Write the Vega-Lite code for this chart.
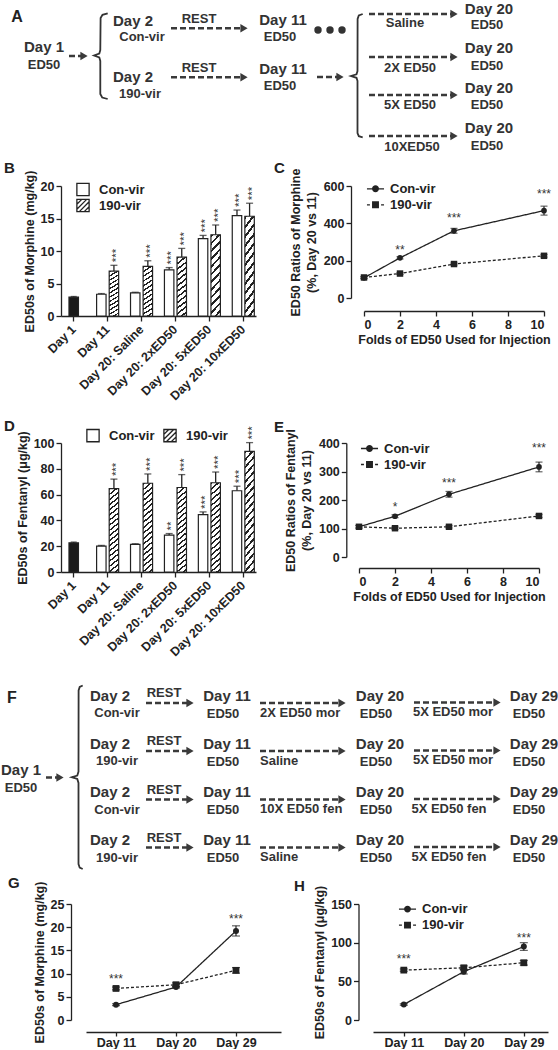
{
"$schema": "https://vega.github.io/schema/vega-lite/v6.json",
"background": "white",
"padding": 0,
"spacing": 0,
"bounds": "flush",
"resolve": {"scale": {"shape": "independent", "strokeDash": "independent"}, "legend": {"shape": "independent"}},
"config": {
  "view": {"stroke": null},
  "font": "Liberation Sans",
  "axis": {"labelFont": "Liberation Sans", "labelFontSize": 12.5, "labelFontWeight": "bold", "labelColor": "#222", "titleFont": "Liberation Sans", "titleFontSize": 12.5, "titleFontWeight": "bold", "titleColor": "#222", "domainColor": "#222", "domainWidth": 1.3, "tickColor": "#222", "tickWidth": 1.3, "tickSize": 5, "grid": false, "labelPadding": 2},
  "legend": {"labelFont": "Liberation Sans", "labelFontSize": 13, "labelFontWeight": "bold", "labelColor": "#222", "padding": 0},
  "title": {"font": "Liberation Sans", "fontSize": 15, "fontWeight": "bold", "color": "#222", "anchor": "start", "frame": "group"}
},
"datasets": {
  "braceA": [
    {"b":"1","k":0,"x":106.7,"y":13.3},{"b":"1","k":1,"x":101.5,"y":14.8},{"b":"1","k":2,"x":99.6,"y":18},{"b":"1","k":3,"x":99.3,"y":50},{"b":"1","k":4,"x":98.3,"y":53.5},{"b":"1","k":5,"x":93,"y":55.5},{"b":"1","k":6,"x":98.3,"y":57.5},{"b":"1","k":7,"x":99.3,"y":61},{"b":"1","k":8,"x":99.3,"y":94},{"b":"1","k":9,"x":101.2,"y":97.5},{"b":"1","k":10,"x":106.7,"y":99},
    {"b":"2","k":0,"x":361.7,"y":14},{"b":"2","k":1,"x":357.8,"y":15.5},{"b":"2","k":2,"x":356.6,"y":19},{"b":"2","k":3,"x":356.5,"y":71},{"b":"2","k":4,"x":355.5,"y":74.3},{"b":"2","k":5,"x":350,"y":76},{"b":"2","k":6,"x":355.5,"y":77.8},{"b":"2","k":7,"x":356.5,"y":81},{"b":"2","k":8,"x":356.5,"y":133},{"b":"2","k":9,"x":357.8,"y":136.2},{"b":"2","k":10,"x":361.7,"y":137.3}
  ],
  "arrowA": [
    {"x":68,"x2":83,"y":56},{"x":170,"x2":243,"y":28.3},{"x":170,"x2":243,"y":77.3},{"x":316,"x2":339,"y":77},
    {"x":368,"x2":453,"y":14},{"x":368,"x2":453,"y":57},{"x":368,"x2":453,"y":95},{"x":368,"x2":453,"y":136}
  ],
  "dotsA": [{"x":317,"y":30},{"x":329,"y":30},{"x":341,"y":30}],
  "bigA": [
    {"x":43,"y":47,"t":"Day 1"},{"x":132,"y":21,"t":"Day 2"},{"x":132,"y":77,"t":"Day 2"},{"x":282,"y":20,"t":"Day 11"},{"x":282,"y":69,"t":"Day 11"},
    {"x":488,"y":9,"t":"Day 20"},{"x":488,"y":48,"t":"Day 20"},{"x":488,"y":88,"t":"Day 20"},{"x":488,"y":128,"t":"Day 20"}
  ],
  "smallA": [
    {"x":43,"y":65,"t":"ED50"},{"x":141,"y":37,"t":"Con-vir"},{"x":139,"y":94,"t":"190-vir"},{"x":198,"y":19,"t":"REST"},{"x":198,"y":67.5,"t":"REST"},
    {"x":279,"y":37,"t":"ED50"},{"x":279,"y":86,"t":"ED50"},{"x":404,"y":23,"t":"Saline"},{"x":409,"y":68,"t":"2X ED50"},{"x":409,"y":105,"t":"5X ED50"},{"x":411,"y":147,"t":"10XED50"},
    {"x":486,"y":24.5,"t":"ED50"},{"x":486,"y":66,"t":"ED50"},{"x":486,"y":105,"t":"ED50"},{"x":486,"y":146,"t":"ED50"}
  ],
  "letterA": [{"x":16,"y":17,"t":"A"}],
  "braceF": [
    {"b":"1","k":0,"x":81.7,"y":685},{"b":"1","k":1,"x":78.7,"y":686.5},{"b":"1","k":2,"x":77.6,"y":690},{"b":"1","k":3,"x":77.5,"y":771},{"b":"1","k":4,"x":76.3,"y":775},{"b":"1","k":5,"x":70.7,"y":776.7},{"b":"1","k":6,"x":76.3,"y":778.5},{"b":"1","k":7,"x":77.5,"y":782.5},{"b":"1","k":8,"x":77.5,"y":863.5},{"b":"1","k":9,"x":78.7,"y":867.2},{"b":"1","k":10,"x":81.7,"y":868.5}
  ],
  "arrowF": [
    {"x":45,"x2":59,"y":777},
    {"x":145,"x2":189,"y":702.5},{"x":259,"x2":341,"y":702.5},{"x":413,"x2":496,"y":702},
    {"x":145,"x2":189,"y":750.5},{"x":259,"x2":341,"y":750.5},{"x":413,"x2":496,"y":750},
    {"x":145,"x2":189,"y":799},{"x":259,"x2":341,"y":799},{"x":413,"x2":496,"y":798.5},
    {"x":145,"x2":189,"y":847},{"x":259,"x2":341,"y":847},{"x":413,"x2":496,"y":846.5}
  ],
  "bigF": [
    {"x":20,"y":769,"t":"Day 1"},
    {"x":109,"y":695,"t":"Day 2"},{"x":226,"y":695,"t":"Day 11"},{"x":379,"y":695,"t":"Day 20"},{"x":533,"y":695,"t":"Day 29"},
    {"x":109,"y":743,"t":"Day 2"},{"x":226,"y":743,"t":"Day 11"},{"x":379,"y":743,"t":"Day 20"},{"x":533,"y":743,"t":"Day 29"},
    {"x":109,"y":791.5,"t":"Day 2"},{"x":226,"y":791.5,"t":"Day 11"},{"x":379,"y":791.5,"t":"Day 20"},{"x":533,"y":791.5,"t":"Day 29"},
    {"x":109,"y":839.5,"t":"Day 2"},{"x":226,"y":839.5,"t":"Day 11"},{"x":379,"y":839.5,"t":"Day 20"},{"x":533,"y":839.5,"t":"Day 29"}
  ],
  "smallF": [
    {"x":20,"y":787,"t":"ED50"},
    {"x":116,"y":712.5,"t":"Con-vir"},{"x":163,"y":692.5,"t":"REST"},{"x":222,"y":713,"t":"ED50"},{"x":375,"y":713,"t":"ED50"},{"x":528,"y":713,"t":"ED50"},{"x":452,"y":711.5,"t":"5X ED50 mor"},
    {"x":116,"y":760.5,"t":"190-vir"},{"x":163,"y":740.5,"t":"REST"},{"x":222,"y":761,"t":"ED50"},{"x":375,"y":761,"t":"ED50"},{"x":528,"y":761,"t":"ED50"},{"x":452,"y":759.5,"t":"5X ED50 mor"},
    {"x":116,"y":809,"t":"Con-vir"},{"x":163,"y":789,"t":"REST"},{"x":222,"y":809.5,"t":"ED50"},{"x":375,"y":809.5,"t":"ED50"},{"x":528,"y":809.5,"t":"ED50"},{"x":448,"y":808,"t":"5X ED50 fen"},
    {"x":116,"y":857,"t":"190-vir"},{"x":163,"y":837,"t":"REST"},{"x":222,"y":857.5,"t":"ED50"},{"x":375,"y":857.5,"t":"ED50"},{"x":528,"y":857.5,"t":"ED50"},{"x":448,"y":856,"t":"5X ED50 fen"}
  ],
  "leftF": [
    {"x":259,"y":712,"t":"2X ED50 mor"},{"x":259,"y":760,"t":"Saline"},{"x":259,"y":808.5,"t":"10X ED50 fen"},{"x":259,"y":856.5,"t":"Saline"}
  ],
  "letterF": [{"x":11,"y":697,"t":"F"}],
  "barB": [
    {"cat":"Day 1","group":"Naive","value":2.9,"upper":3.0},
    {"cat":"Day 11","group":"Con-vir","value":3.35,"upper":3.45},
    {"cat":"Day 11","group":"190-vir","value":6.9,"upper":7.8,"sig":"***"},
    {"cat":"Day 20: Saline","group":"Con-vir","value":3.55,"upper":3.65},
    {"cat":"Day 20: Saline","group":"190-vir","value":7.65,"upper":8.5,"sig":"***"},
    {"cat":"Day 20: 2xED50","group":"Con-vir","value":7.1,"upper":7.45,"sig":"***"},
    {"cat":"Day 20: 2xED50","group":"190-vir","value":9.05,"upper":10.4,"sig":"***"},
    {"cat":"Day 20: 5xED50","group":"Con-vir","value":11.9,"upper":12.4,"sig":"***"},
    {"cat":"Day 20: 5xED50","group":"190-vir","value":12.5,"upper":14.0,"sig":"***"},
    {"cat":"Day 20: 10xED50","group":"Con-vir","value":15.45,"upper":16.3,"sig":"***"},
    {"cat":"Day 20: 10xED50","group":"190-vir","value":15.35,"upper":17.35,"sig":"***"}
  ],
  "barD": [
    {"cat":"Day 1","group":"Naive","value":22.6,"upper":23.2},
    {"cat":"Day 11","group":"Con-vir","value":20,"upper":20.6},
    {"cat":"Day 11","group":"190-vir","value":64.7,"upper":72,"sig":"***"},
    {"cat":"Day 20: Saline","group":"Con-vir","value":21.4,"upper":21.9},
    {"cat":"Day 20: Saline","group":"190-vir","value":68.8,"upper":76,"sig":"***"},
    {"cat":"Day 20: 2xED50","group":"Con-vir","value":28.6,"upper":29.8,"sig":"**"},
    {"cat":"Day 20: 2xED50","group":"190-vir","value":65.5,"upper":75.5,"sig":"***"},
    {"cat":"Day 20: 5xED50","group":"Con-vir","value":44.5,"upper":46.6,"sig":"***"},
    {"cat":"Day 20: 5xED50","group":"190-vir","value":69.2,"upper":77.5,"sig":"***"},
    {"cat":"Day 20: 10xED50","group":"Con-vir","value":63,"upper":66.5,"sig":"***"},
    {"cat":"Day 20: 10xED50","group":"190-vir","value":93.5,"upper":100.3,"sig":"***"}
  ],
  "lineC": [
    {"fold":0,"group":"Con-vir","value":108,"lo":103,"hi":113},
    {"fold":2,"group":"Con-vir","value":215,"lo":209,"hi":221},
    {"fold":5,"group":"Con-vir","value":360,"lo":347,"hi":373},
    {"fold":10,"group":"Con-vir","value":468,"lo":444,"hi":492},
    {"fold":0,"group":"190-vir","value":110,"lo":105,"hi":115},
    {"fold":2,"group":"190-vir","value":131,"lo":126,"hi":136},
    {"fold":5,"group":"190-vir","value":182,"lo":177,"hi":187},
    {"fold":10,"group":"190-vir","value":226,"lo":219,"hi":233}
  ],
  "starC": [{"fold":2,"sy":273,"s":"**"},{"fold":5,"sy":446,"s":"***"},{"fold":10,"sy":572,"s":"***"}],
  "lineE": [
    {"fold":0,"group":"Con-vir","value":106,"lo":101,"hi":111},
    {"fold":2,"group":"Con-vir","value":143,"lo":138,"hi":148},
    {"fold":5,"group":"Con-vir","value":220,"lo":210,"hi":230},
    {"fold":10,"group":"Con-vir","value":316,"lo":299,"hi":333},
    {"fold":0,"group":"190-vir","value":106,"lo":102,"hi":110},
    {"fold":2,"group":"190-vir","value":101,"lo":97,"hi":105},
    {"fold":5,"group":"190-vir","value":106,"lo":102,"hi":110},
    {"fold":10,"group":"190-vir","value":144,"lo":139,"hi":149}
  ],
  "starE": [{"fold":2,"sy":187,"s":"*"},{"fold":5,"sy":270,"s":"***"},{"fold":10,"sy":392,"s":"***"}],
  "lineG": [
    {"day":"Day 11","group":"Con-vir","value":3.3,"lo":3.1,"hi":3.5},
    {"day":"Day 20","group":"Con-vir","value":7.1,"lo":6.9,"hi":7.3},
    {"day":"Day 29","group":"Con-vir","value":19.2,"lo":18.1,"hi":20.3},
    {"day":"Day 11","group":"190-vir","value":6.8,"lo":6.5,"hi":7.1},
    {"day":"Day 20","group":"190-vir","value":7.6,"lo":7.2,"hi":8.0},
    {"day":"Day 29","group":"190-vir","value":10.7,"lo":10.1,"hi":11.3}
  ],
  "starG": [{"day":"Day 11","sy":9.5,"s":"***"},{"day":"Day 29","sy":22.4,"s":"***"}],
  "lineH": [
    {"day":"Day 11","group":"Con-vir","value":20,"lo":19,"hi":21},
    {"day":"Day 20","group":"Con-vir","value":62.5,"lo":59.5,"hi":65.5},
    {"day":"Day 29","group":"Con-vir","value":95,"lo":90,"hi":100},
    {"day":"Day 11","group":"190-vir","value":64.5,"lo":63,"hi":66},
    {"day":"Day 20","group":"190-vir","value":67.5,"lo":65,"hi":70},
    {"day":"Day 29","group":"190-vir","value":74,"lo":71,"hi":77}
  ],
  "starH": [{"day":"Day 11","sy":83,"s":"***"},{"day":"Day 29","sy":110,"s":"***"}]
},
"vconcat": [
{
  "width": 558, "height": 186,
  "encoding": {
    "x": {"field": "x", "type": "quantitative", "scale": {"domain": [0, 558], "nice": false, "zero": false}, "axis": null},
    "y": {"field": "y", "type": "quantitative", "scale": {"domain": [0, 186], "nice": false, "zero": false, "reverse": true}, "axis": null}
  },
  "layer": [
    {"data": {"name": "braceA"}, "mark": {"type": "line", "color": "#333", "strokeWidth": 1.8}, "encoding": {"detail": {"field": "b"}, "order": {"field": "k", "type": "quantitative"}}},
    {"data": {"name": "arrowA"}, "mark": {"type": "rule", "color": "#3a3a3a", "strokeWidth": 2.6, "strokeDash": [6, 3]}, "encoding": {"x2": {"field": "x2"}}},
    {"data": {"name": "arrowA"}, "mark": {"type": "point", "shape": "triangle-right", "filled": true, "size": 70, "color": "#3a3a3a", "opacity": 1}, "encoding": {"x": {"field": "x2", "type": "quantitative"}}},
    {"data": {"name": "dotsA"}, "mark": {"type": "point", "shape": "circle", "filled": true, "size": 55, "color": "#333", "opacity": 1}},
    {"data": {"name": "bigA"}, "mark": {"type": "text", "fontSize": 15, "fontWeight": "bold", "color": "#333"}, "encoding": {"text": {"field": "t"}}},
    {"data": {"name": "smallA"}, "mark": {"type": "text", "fontSize": 13, "fontWeight": "bold", "color": "#333"}, "encoding": {"text": {"field": "t"}}},
    {"data": {"name": "letterA"}, "mark": {"type": "text", "fontSize": 16, "fontWeight": "bold", "color": "#222"}, "encoding": {"text": {"field": "t"}}}
  ]
},
{
  "resolve": {"scale": {"shape": "independent", "strokeDash": "independent"}, "legend": {"shape": "independent"}},
  "hconcat": [
    {"width": 60, "height": 130, "data": {"values": []}, "mark": "point"},
    {
      "width": 195, "height": 130,
      "title": {"text": "B", "dx": -57, "dy": 10},
      "data": {"name": "barB"},
      "encoding": {
        "x": {"field": "cat", "type": "nominal", "sort": ["Day 1", "Day 11", "Day 20: Saline", "Day 20: 2xED50", "Day 20: 5xED50", "Day 20: 10xED50"], "scale": {"paddingInner": 0.35, "paddingOuter": 0.05}, "axis": {"title": null, "labelAngle": -45, "labelAlign": "right", "labelBaseline": "middle", "labelPadding": 6}},
        "y": {"field": "value", "type": "quantitative", "scale": {"domain": [0, 20], "nice": false}, "axis": {"title": "ED50s of Morphine (mg/kg)", "values": [0, 5, 10, 15, 20], "titlePadding": 4}}
      },
      "layer": [
        {"transform": [{"filter": "datum.group != 'Naive'"}], "mark": {"type": "rule", "color": "#222", "strokeWidth": 1.3}, "encoding": {"xOffset": {"field": "group", "scale": {"domain": ["Con-vir", "190-vir"], "paddingInner": 0.25}}, "y2": {"field": "upper"}}},
        {"transform": [{"filter": "datum.group != 'Naive'"}], "mark": {"type": "tick", "orient": "horizontal", "size": 7, "thickness": 1.3, "color": "#222"}, "encoding": {"xOffset": {"field": "group"}, "y": {"field": "upper", "type": "quantitative"}}},
        {"transform": [{"filter": "datum.group == 'Con-vir'"}], "mark": {"type": "bar", "fill": "white", "stroke": "#222", "strokeWidth": 1.2}, "encoding": {"xOffset": {"field": "group"}}},
        {"transform": [{"filter": "datum.group == '190-vir'"}], "mark": {"type": "bar", "stroke": "#222", "strokeWidth": 1.2, "fill": {"gradient": "linear", "x1": 0, "y1": 0, "x2": 0.14, "y2": 1.12, "stops": [
          {"offset":0,"color":"#222"},{"offset":0.0292,"color":"#222"},{"offset":0.0292,"color":"#fff"},{"offset":0.0833,"color":"#fff"},
          {"offset":0.0833,"color":"#222"},{"offset":0.1125,"color":"#222"},{"offset":0.1125,"color":"#fff"},{"offset":0.1667,"color":"#fff"},
          {"offset":0.1667,"color":"#222"},{"offset":0.1958,"color":"#222"},{"offset":0.1958,"color":"#fff"},{"offset":0.25,"color":"#fff"},
          {"offset":0.25,"color":"#222"},{"offset":0.2792,"color":"#222"},{"offset":0.2792,"color":"#fff"},{"offset":0.3333,"color":"#fff"},
          {"offset":0.3333,"color":"#222"},{"offset":0.3625,"color":"#222"},{"offset":0.3625,"color":"#fff"},{"offset":0.4167,"color":"#fff"},
          {"offset":0.4167,"color":"#222"},{"offset":0.4458,"color":"#222"},{"offset":0.4458,"color":"#fff"},{"offset":0.5,"color":"#fff"},
          {"offset":0.5,"color":"#222"},{"offset":0.5292,"color":"#222"},{"offset":0.5292,"color":"#fff"},{"offset":0.5833,"color":"#fff"},
          {"offset":0.5833,"color":"#222"},{"offset":0.6125,"color":"#222"},{"offset":0.6125,"color":"#fff"},{"offset":0.6667,"color":"#fff"},
          {"offset":0.6667,"color":"#222"},{"offset":0.6958,"color":"#222"},{"offset":0.6958,"color":"#fff"},{"offset":0.75,"color":"#fff"},
          {"offset":0.75,"color":"#222"},{"offset":0.7792,"color":"#222"},{"offset":0.7792,"color":"#fff"},{"offset":0.8333,"color":"#fff"},
          {"offset":0.8333,"color":"#222"},{"offset":0.8625,"color":"#222"},{"offset":0.8625,"color":"#fff"},{"offset":0.9167,"color":"#fff"},
          {"offset":0.9167,"color":"#222"},{"offset":0.9458,"color":"#222"},{"offset":0.9458,"color":"#fff"},{"offset":1,"color":"#fff"}]}}, "encoding": {"xOffset": {"field": "group"}}},
        {"transform": [{"filter": "datum.group == 'Naive'"}], "mark": {"type": "rule", "color": "#222", "strokeWidth": 1.3}, "encoding": {"y2": {"field": "upper"}}},
        {"transform": [{"filter": "datum.group == 'Naive'"}], "mark": {"type": "tick", "orient": "horizontal", "size": 6, "thickness": 1.3, "color": "#222"}, "encoding": {"y": {"field": "upper", "type": "quantitative"}}},
        {"transform": [{"filter": "datum.group == 'Naive'"}], "mark": {"type": "bar", "fill": "#1a1a1a", "stroke": "#222", "strokeWidth": 1.2, "width": {"band": 0.43}}},
        {"transform": [{"filter": "isValid(datum.sig)"}], "mark": {"type": "text", "angle": 270, "align": "left", "baseline": "middle", "dx": 3, "dy": 3, "fontSize": 11.5, "color": "#333"}, "encoding": {"xOffset": {"field": "group"}, "y": {"field": "upper", "type": "quantitative"}, "text": {"field": "sig"}}},
        {"data": {"values": []}, "mark": {"type": "point", "size": 150, "filled": false, "color": "#222", "opacity": 1, "strokeWidth": 1.3}, "encoding": {"shape": {"field": "series", "type": "nominal", "scale": {"domain": ["Con-vir", "190-vir"], "range": ["M-1,-1H1V1H-1Z", "M-1,-1H1V1H-1Z M-1,-0.2L-0.2,-1 M-1,0.6L0.6,-1 M-0.6,1L1,-0.6 M0.2,1L1,0.2"]}, "legend": {"title": null, "orient": "none", "legendX": 15, "legendY": -3.5, "symbolSize": 150, "labelOffset": 9, "rowPadding": -4, "symbolStrokeWidth": 1.3, "symbolStrokeColor": "#222", "symbolFillColor": "white", "symbolOpacity": 1}}}}
      ]
    },
    {"width": 108, "height": 130, "data": {"values": []}, "mark": "point"},
    {
      "width": 180, "height": 112,
      "title": {"text": "C", "dx": -90, "dy": 12},
      "data": {"name": "lineC"},
      "encoding": {
        "x": {"field": "fold", "type": "quantitative", "scale": {"domain": [0, 10], "nice": false, "zero": false}, "axis": {"title": "Folds of ED50 Used for Injection", "values": [0, 2, 4, 6, 8, 10], "offset": 13, "titlePadding": 3}},
        "y": {"field": "value", "type": "quantitative", "scale": {"domain": [0, 600], "nice": false}, "axis": {"title": ["ED50 Ratios of Morphine", "(%, Day 20 vs 11)"], "values": [0, 200, 400, 600], "offset": 13, "titlePadding": 5, "titleLineHeight": 16}}
      },
      "layer": [
        {"mark": {"type": "line", "color": "#222", "strokeWidth": 1.3}, "encoding": {"strokeDash": {"field": "group", "type": "nominal", "scale": {"domain": ["190-vir", "Con-vir"], "range": [[3, 2], [1, 0]]}, "legend": null}}},
        {"mark": {"type": "rule", "color": "#222", "strokeWidth": 1.2}, "encoding": {"y": {"field": "lo", "type": "quantitative"}, "y2": {"field": "hi"}}},
        {"mark": {"type": "tick", "orient": "horizontal", "size": 7, "thickness": 1.2, "color": "#222"}, "encoding": {"y": {"field": "lo", "type": "quantitative"}}},
        {"mark": {"type": "tick", "orient": "horizontal", "size": 7, "thickness": 1.2, "color": "#222"}, "encoding": {"y": {"field": "hi", "type": "quantitative"}}},
        {"transform": [{"filter": "datum.group == 'Con-vir'"}], "mark": {"type": "point", "shape": "circle", "filled": true, "size": 32, "color": "#222", "opacity": 1}},
        {"transform": [{"filter": "datum.group == '190-vir'"}], "mark": {"type": "point", "shape": "square", "filled": true, "size": 42, "color": "#222", "opacity": 1}},
        {"data": {"name": "starC"}, "mark": {"type": "text", "fontSize": 12, "dy": 3, "color": "#333"}, "encoding": {"y": {"field": "sy", "type": "quantitative"}, "text": {"field": "s"}}},
        {"data": {"values": []}, "mark": {"type": "point", "size": 220, "filled": false, "color": "#222", "opacity": 1, "strokeWidth": 1.3}, "encoding": {"shape": {"field": "series", "type": "nominal", "scale": {"domain": ["Con-vir", "190-vir"], "range": ["M-1.15,0H1.15M0.38,0A0.38,0.38,0,1,1,-0.38,0A0.38,0.38,0,1,1,0.38,0ZM0.28,0A0.28,0.28,0,1,1,-0.28,0A0.28,0.28,0,1,1,0.28,0ZM0.18,0A0.18,0.18,0,1,1,-0.18,0A0.18,0.18,0,1,1,0.18,0ZM0.08,0A0.08,0.08,0,1,1,-0.08,0A0.08,0.08,0,1,1,0.08,0Z", "M-1.15,0H-0.75M0.75,0H1.15M-0.38,-0.38H0.38V0.38H-0.38ZM-0.28,-0.28H0.28V0.28H-0.28ZM-0.18,-0.18H0.18V0.18H-0.18ZM-0.08,-0.08H0.08V0.08H-0.08Z"]}, "legend": {"title": null, "orient": "none", "legendX": 3, "legendY": -5.7, "symbolSize": 220, "labelOffset": 6, "rowPadding": 0, "symbolFillColor": "#222", "symbolStrokeColor": "#222", "symbolStrokeWidth": 1.3, "symbolOpacity": 1}}}}
      ]
    }
  ],
  "spacing": 0,
  "bounds": "flush"
},
{"width": 1, "height": 256.5, "data": {"values": []}, "mark": "point"},
{
  "resolve": {"scale": {"shape": "independent", "strokeDash": "independent"}, "legend": {"shape": "independent"}},
  "hconcat": [
    {"width": 60, "height": 129, "data": {"values": []}, "mark": "point"},
    {
      "width": 195, "height": 129,
      "title": {"text": "D", "dx": -57, "dy": 12},
      "data": {"name": "barD"},
      "encoding": {
        "x": {"field": "cat", "type": "nominal", "sort": ["Day 1", "Day 11", "Day 20: Saline", "Day 20: 2xED50", "Day 20: 5xED50", "Day 20: 10xED50"], "scale": {"paddingInner": 0.35, "paddingOuter": 0.05}, "axis": {"title": null, "labelAngle": -45, "labelAlign": "right", "labelBaseline": "middle", "labelPadding": 6}},
        "y": {"field": "value", "type": "quantitative", "scale": {"domain": [0, 100], "nice": false}, "axis": {"title": "ED50s of Fentanyl (μg/kg)", "values": [0, 20, 40, 60, 80, 100], "titlePadding": 4}}
      },
      "layer": [
        {"transform": [{"filter": "datum.group != 'Naive'"}], "mark": {"type": "rule", "color": "#222", "strokeWidth": 1.3}, "encoding": {"xOffset": {"field": "group", "scale": {"domain": ["Con-vir", "190-vir"], "paddingInner": 0.25}}, "y2": {"field": "upper"}}},
        {"transform": [{"filter": "datum.group != 'Naive'"}], "mark": {"type": "tick", "orient": "horizontal", "size": 7, "thickness": 1.3, "color": "#222"}, "encoding": {"xOffset": {"field": "group"}, "y": {"field": "upper", "type": "quantitative"}}},
        {"transform": [{"filter": "datum.group == 'Con-vir'"}], "mark": {"type": "bar", "fill": "white", "stroke": "#222", "strokeWidth": 1.2}, "encoding": {"xOffset": {"field": "group"}}},
        {"transform": [{"filter": "datum.group == '190-vir'"}], "mark": {"type": "bar", "stroke": "#222", "strokeWidth": 1.2, "fill": {"gradient": "linear", "x1": 0, "y1": 0, "x2": 0.1, "y2": 1.1, "stops": [
          {"offset":0,"color":"#222"},{"offset":0.0194,"color":"#222"},{"offset":0.0194,"color":"#fff"},{"offset":0.0556,"color":"#fff"},
          {"offset":0.0556,"color":"#222"},{"offset":0.075,"color":"#222"},{"offset":0.075,"color":"#fff"},{"offset":0.1111,"color":"#fff"},
          {"offset":0.1111,"color":"#222"},{"offset":0.1306,"color":"#222"},{"offset":0.1306,"color":"#fff"},{"offset":0.1667,"color":"#fff"},
          {"offset":0.1667,"color":"#222"},{"offset":0.1861,"color":"#222"},{"offset":0.1861,"color":"#fff"},{"offset":0.2222,"color":"#fff"},
          {"offset":0.2222,"color":"#222"},{"offset":0.2417,"color":"#222"},{"offset":0.2417,"color":"#fff"},{"offset":0.2778,"color":"#fff"},
          {"offset":0.2778,"color":"#222"},{"offset":0.2972,"color":"#222"},{"offset":0.2972,"color":"#fff"},{"offset":0.3333,"color":"#fff"},
          {"offset":0.3333,"color":"#222"},{"offset":0.3528,"color":"#222"},{"offset":0.3528,"color":"#fff"},{"offset":0.3889,"color":"#fff"},
          {"offset":0.3889,"color":"#222"},{"offset":0.4083,"color":"#222"},{"offset":0.4083,"color":"#fff"},{"offset":0.4444,"color":"#fff"},
          {"offset":0.4444,"color":"#222"},{"offset":0.4639,"color":"#222"},{"offset":0.4639,"color":"#fff"},{"offset":0.5,"color":"#fff"},
          {"offset":0.5,"color":"#222"},{"offset":0.5194,"color":"#222"},{"offset":0.5194,"color":"#fff"},{"offset":0.5556,"color":"#fff"},
          {"offset":0.5556,"color":"#222"},{"offset":0.575,"color":"#222"},{"offset":0.575,"color":"#fff"},{"offset":0.6111,"color":"#fff"},
          {"offset":0.6111,"color":"#222"},{"offset":0.6306,"color":"#222"},{"offset":0.6306,"color":"#fff"},{"offset":0.6667,"color":"#fff"},
          {"offset":0.6667,"color":"#222"},{"offset":0.6861,"color":"#222"},{"offset":0.6861,"color":"#fff"},{"offset":0.7222,"color":"#fff"},
          {"offset":0.7222,"color":"#222"},{"offset":0.7417,"color":"#222"},{"offset":0.7417,"color":"#fff"},{"offset":0.7778,"color":"#fff"},
          {"offset":0.7778,"color":"#222"},{"offset":0.7972,"color":"#222"},{"offset":0.7972,"color":"#fff"},{"offset":0.8333,"color":"#fff"},
          {"offset":0.8333,"color":"#222"},{"offset":0.8528,"color":"#222"},{"offset":0.8528,"color":"#fff"},{"offset":0.8889,"color":"#fff"},
          {"offset":0.8889,"color":"#222"},{"offset":0.9083,"color":"#222"},{"offset":0.9083,"color":"#fff"},{"offset":0.9444,"color":"#fff"},
          {"offset":0.9444,"color":"#222"},{"offset":0.9639,"color":"#222"},{"offset":0.9639,"color":"#fff"},{"offset":1,"color":"#fff"}]}}, "encoding": {"xOffset": {"field": "group"}}},
        {"transform": [{"filter": "datum.group == 'Naive'"}], "mark": {"type": "rule", "color": "#222", "strokeWidth": 1.3}, "encoding": {"y2": {"field": "upper"}}},
        {"transform": [{"filter": "datum.group == 'Naive'"}], "mark": {"type": "tick", "orient": "horizontal", "size": 6, "thickness": 1.3, "color": "#222"}, "encoding": {"y": {"field": "upper", "type": "quantitative"}}},
        {"transform": [{"filter": "datum.group == 'Naive'"}], "mark": {"type": "bar", "fill": "#1a1a1a", "stroke": "#222", "strokeWidth": 1.2, "width": {"band": 0.43}}},
        {"transform": [{"filter": "isValid(datum.sig)"}], "mark": {"type": "text", "angle": 270, "align": "left", "baseline": "middle", "dx": 3, "dy": 3, "fontSize": 11.5, "color": "#333"}, "encoding": {"xOffset": {"field": "group"}, "y": {"field": "upper", "type": "quantitative"}, "text": {"field": "sig"}}},
        {"data": {"values": []}, "mark": {"type": "point", "size": 150, "filled": false, "color": "#222", "opacity": 1, "strokeWidth": 1.3}, "encoding": {"shape": {"field": "series", "type": "nominal", "scale": {"domain": ["Con-vir", "190-vir"], "range": ["M-1,-1H1V1H-1Z", "M-1,-1H1V1H-1Z M-1,-0.2L-0.2,-1 M-1,0.6L0.6,-1 M-0.6,1L1,-0.6 M0.2,1L1,0.2"]}, "legend": {"title": null, "orient": "none", "direction": "horizontal", "legendX": 25, "legendY": -14.5, "symbolSize": 150, "labelOffset": 9, "columnPadding": 6, "symbolStrokeWidth": 1.3, "symbolStrokeColor": "#222", "symbolFillColor": "white", "symbolOpacity": 1}}}}
      ]
    },
    {"width": 103, "height": 129, "data": {"values": []}, "mark": "point"},
    {
      "width": 180, "height": 114,
      "title": {"text": "E", "dx": -85, "dy": 11},
      "data": {"name": "lineE"},
      "encoding": {
        "x": {"field": "fold", "type": "quantitative", "scale": {"domain": [0, 10], "nice": false, "zero": false}, "axis": {"title": "Folds of ED50 Used for Injection", "values": [0, 2, 4, 6, 8, 10], "offset": 11, "titlePadding": 3}},
        "y": {"field": "value", "type": "quantitative", "scale": {"domain": [0, 400], "nice": false}, "axis": {"title": ["ED50 Ratios of Fentanyl", "(%, Day 20 vs 11)"], "values": [0, 100, 200, 300, 400], "offset": 12.7, "titlePadding": 5, "titleLineHeight": 16}}
      },
      "layer": [
        {"mark": {"type": "line", "color": "#222", "strokeWidth": 1.3}, "encoding": {"strokeDash": {"field": "group", "type": "nominal", "scale": {"domain": ["190-vir", "Con-vir"], "range": [[3, 2], [1, 0]]}, "legend": null}}},
        {"mark": {"type": "rule", "color": "#222", "strokeWidth": 1.2}, "encoding": {"y": {"field": "lo", "type": "quantitative"}, "y2": {"field": "hi"}}},
        {"mark": {"type": "tick", "orient": "horizontal", "size": 7, "thickness": 1.2, "color": "#222"}, "encoding": {"y": {"field": "lo", "type": "quantitative"}}},
        {"mark": {"type": "tick", "orient": "horizontal", "size": 7, "thickness": 1.2, "color": "#222"}, "encoding": {"y": {"field": "hi", "type": "quantitative"}}},
        {"transform": [{"filter": "datum.group == 'Con-vir'"}], "mark": {"type": "point", "shape": "circle", "filled": true, "size": 32, "color": "#222", "opacity": 1}},
        {"transform": [{"filter": "datum.group == '190-vir'"}], "mark": {"type": "point", "shape": "square", "filled": true, "size": 42, "color": "#222", "opacity": 1}},
        {"data": {"name": "starE"}, "mark": {"type": "text", "fontSize": 12, "dy": 3, "color": "#333"}, "encoding": {"y": {"field": "sy", "type": "quantitative"}, "text": {"field": "s"}}},
        {"data": {"values": []}, "mark": {"type": "point", "size": 220, "filled": false, "color": "#222", "opacity": 1, "strokeWidth": 1.3}, "encoding": {"shape": {"field": "series", "type": "nominal", "scale": {"domain": ["Con-vir", "190-vir"], "range": ["M-1.15,0H1.15M0.38,0A0.38,0.38,0,1,1,-0.38,0A0.38,0.38,0,1,1,0.38,0ZM0.28,0A0.28,0.28,0,1,1,-0.28,0A0.28,0.28,0,1,1,0.28,0ZM0.18,0A0.18,0.18,0,1,1,-0.18,0A0.18,0.18,0,1,1,0.18,0ZM0.08,0A0.08,0.08,0,1,1,-0.08,0A0.08,0.08,0,1,1,0.08,0Z", "M-1.15,0H-0.75M0.75,0H1.15M-0.38,-0.38H0.38V0.38H-0.38ZM-0.28,-0.28H0.28V0.28H-0.28ZM-0.18,-0.18H0.18V0.18H-0.18ZM-0.08,-0.08H0.08V0.08H-0.08Z"]}, "legend": {"title": null, "orient": "none", "legendX": 2, "legendY": -3, "symbolSize": 220, "labelOffset": 6, "rowPadding": 0, "symbolFillColor": "#222", "symbolStrokeColor": "#222", "symbolStrokeWidth": 1.3, "symbolOpacity": 1}}}}
      ]
    }
  ],
  "spacing": 0,
  "bounds": "flush"
},
{"width": 1, "height": 129, "data": {"values": []}, "mark": "point"},
{
  "width": 558, "height": 331.5,
  "encoding": {
    "x": {"field": "x", "type": "quantitative", "scale": {"domain": [0, 558], "nice": false, "zero": false}, "axis": null},
    "y": {"field": "y", "type": "quantitative", "scale": {"domain": [571.5, 903], "nice": false, "zero": false, "reverse": true}, "axis": null}
  },
  "layer": [
    {"data": {"name": "braceF"}, "mark": {"type": "line", "color": "#333", "strokeWidth": 1.8}, "encoding": {"detail": {"field": "b"}, "order": {"field": "k", "type": "quantitative"}}},
    {"data": {"name": "arrowF"}, "mark": {"type": "rule", "color": "#3a3a3a", "strokeWidth": 2.6, "strokeDash": [6, 3]}, "encoding": {"x2": {"field": "x2"}}},
    {"data": {"name": "arrowF"}, "mark": {"type": "point", "shape": "triangle-right", "filled": true, "size": 70, "color": "#3a3a3a", "opacity": 1}, "encoding": {"x": {"field": "x2", "type": "quantitative"}}},
    {"data": {"name": "bigF"}, "mark": {"type": "text", "fontSize": 15, "fontWeight": "bold", "color": "#333"}, "encoding": {"text": {"field": "t"}}},
    {"data": {"name": "smallF"}, "mark": {"type": "text", "fontSize": 13, "fontWeight": "bold", "color": "#333"}, "encoding": {"text": {"field": "t"}}},
    {"data": {"name": "leftF"}, "mark": {"type": "text", "fontSize": 13, "fontWeight": "bold", "color": "#333", "align": "left"}, "encoding": {"text": {"field": "t"}}},
    {"data": {"name": "letterF"}, "mark": {"type": "text", "fontSize": 16, "fontWeight": "bold", "color": "#222"}, "encoding": {"text": {"field": "t"}}}
  ]
},
{
  "resolve": {"scale": {"shape": "independent", "strokeDash": "independent"}, "legend": {"shape": "independent"}},
  "hconcat": [
    {"width": 85, "height": 116, "data": {"values": []}, "mark": "point"},
    {
      "width": 195, "height": 116,
      "title": {"text": "G", "dx": -78, "dy": 14},
      "data": {"name": "lineG"},
      "encoding": {
        "x": {"field": "day", "type": "ordinal", "scale": {"type": "point", "padding": 0.625, "align": 0.4}, "axis": {"title": null, "offset": 12, "labelAngle": 0, "tickSize": 4, "labelPadding": 0}},
        "y": {"field": "value", "type": "quantitative", "scale": {"domain": [0, 25], "nice": false}, "axis": {"title": "ED50s of Morphine (mg/kg)", "values": [0, 5, 10, 15, 20, 25], "offset": 15, "titlePadding": 4}}
      },
      "layer": [
        {"mark": {"type": "line", "color": "#222", "strokeWidth": 1.3}, "encoding": {"strokeDash": {"field": "group", "type": "nominal", "scale": {"domain": ["190-vir", "Con-vir"], "range": [[3, 2], [1, 0]]}, "legend": null}}},
        {"mark": {"type": "rule", "color": "#222", "strokeWidth": 1.2}, "encoding": {"y": {"field": "lo", "type": "quantitative"}, "y2": {"field": "hi"}}},
        {"mark": {"type": "tick", "orient": "horizontal", "size": 8, "thickness": 1.2, "color": "#222"}, "encoding": {"y": {"field": "lo", "type": "quantitative"}}},
        {"mark": {"type": "tick", "orient": "horizontal", "size": 8, "thickness": 1.2, "color": "#222"}, "encoding": {"y": {"field": "hi", "type": "quantitative"}}},
        {"transform": [{"filter": "datum.group == 'Con-vir'"}], "mark": {"type": "point", "shape": "circle", "filled": true, "size": 36, "color": "#222", "opacity": 1}},
        {"transform": [{"filter": "datum.group == '190-vir'"}], "mark": {"type": "point", "shape": "square", "filled": true, "size": 46, "color": "#222", "opacity": 1}},
        {"data": {"name": "starG"}, "mark": {"type": "text", "fontSize": 12, "dy": 3, "color": "#333"}, "encoding": {"y": {"field": "sy", "type": "quantitative"}, "text": {"field": "s"}}}
      ]
    },
    {"width": 92, "height": 116, "data": {"values": []}, "mark": "point"},
    {
      "width": 175, "height": 116,
      "title": {"text": "H", "dx": -79, "dy": 13},
      "data": {"name": "lineH"},
      "encoding": {
        "x": {"field": "day", "type": "ordinal", "scale": {"type": "point", "padding": 0.458, "align": 0.56}, "axis": {"title": null, "offset": 12, "labelAngle": 0, "tickSize": 4, "labelPadding": 0}},
        "y": {"field": "value", "type": "quantitative", "scale": {"domain": [0, 150], "nice": false}, "axis": {"title": "ED50s of Fentanyl (μg/kg)", "values": [0, 50, 100, 150], "offset": 14.5, "titlePadding": 4}}
      },
      "layer": [
        {"mark": {"type": "line", "color": "#222", "strokeWidth": 1.3}, "encoding": {"strokeDash": {"field": "group", "type": "nominal", "scale": {"domain": ["190-vir", "Con-vir"], "range": [[3, 2], [1, 0]]}, "legend": null}}},
        {"mark": {"type": "rule", "color": "#222", "strokeWidth": 1.2}, "encoding": {"y": {"field": "lo", "type": "quantitative"}, "y2": {"field": "hi"}}},
        {"mark": {"type": "tick", "orient": "horizontal", "size": 8, "thickness": 1.2, "color": "#222"}, "encoding": {"y": {"field": "lo", "type": "quantitative"}}},
        {"mark": {"type": "tick", "orient": "horizontal", "size": 8, "thickness": 1.2, "color": "#222"}, "encoding": {"y": {"field": "hi", "type": "quantitative"}}},
        {"transform": [{"filter": "datum.group == 'Con-vir'"}], "mark": {"type": "point", "shape": "circle", "filled": true, "size": 36, "color": "#222", "opacity": 1}},
        {"transform": [{"filter": "datum.group == '190-vir'"}], "mark": {"type": "point", "shape": "square", "filled": true, "size": 46, "color": "#222", "opacity": 1}},
        {"data": {"name": "starH"}, "mark": {"type": "text", "fontSize": 12, "dy": 3, "color": "#333"}, "encoding": {"y": {"field": "sy", "type": "quantitative"}, "text": {"field": "s"}}},
        {"data": {"values": []}, "mark": {"type": "point", "size": 220, "filled": false, "color": "#222", "opacity": 1, "strokeWidth": 1.3}, "encoding": {"shape": {"field": "series", "type": "nominal", "scale": {"domain": ["Con-vir", "190-vir"], "range": ["M-1.15,0H1.15M0.38,0A0.38,0.38,0,1,1,-0.38,0A0.38,0.38,0,1,1,0.38,0ZM0.28,0A0.28,0.28,0,1,1,-0.28,0A0.28,0.28,0,1,1,0.28,0ZM0.18,0A0.18,0.18,0,1,1,-0.18,0A0.18,0.18,0,1,1,0.18,0ZM0.08,0A0.08,0.08,0,1,1,-0.08,0A0.08,0.08,0,1,1,0.08,0Z", "M-1.15,0H-0.75M0.75,0H1.15M-0.38,-0.38H0.38V0.38H-0.38ZM-0.28,-0.28H0.28V0.28H-0.28ZM-0.18,-0.18H0.18V0.18H-0.18ZM-0.08,-0.08H0.08V0.08H-0.08Z"]}, "legend": {"title": null, "orient": "none", "legendX": 26, "legendY": -3.4, "symbolSize": 220, "labelOffset": 6, "rowPadding": 0, "symbolFillColor": "#222", "symbolStrokeColor": "#222", "symbolStrokeWidth": 1.3, "symbolOpacity": 1}}}}
      ]
    }
  ],
  "spacing": 0,
  "bounds": "flush"
}
]
}
